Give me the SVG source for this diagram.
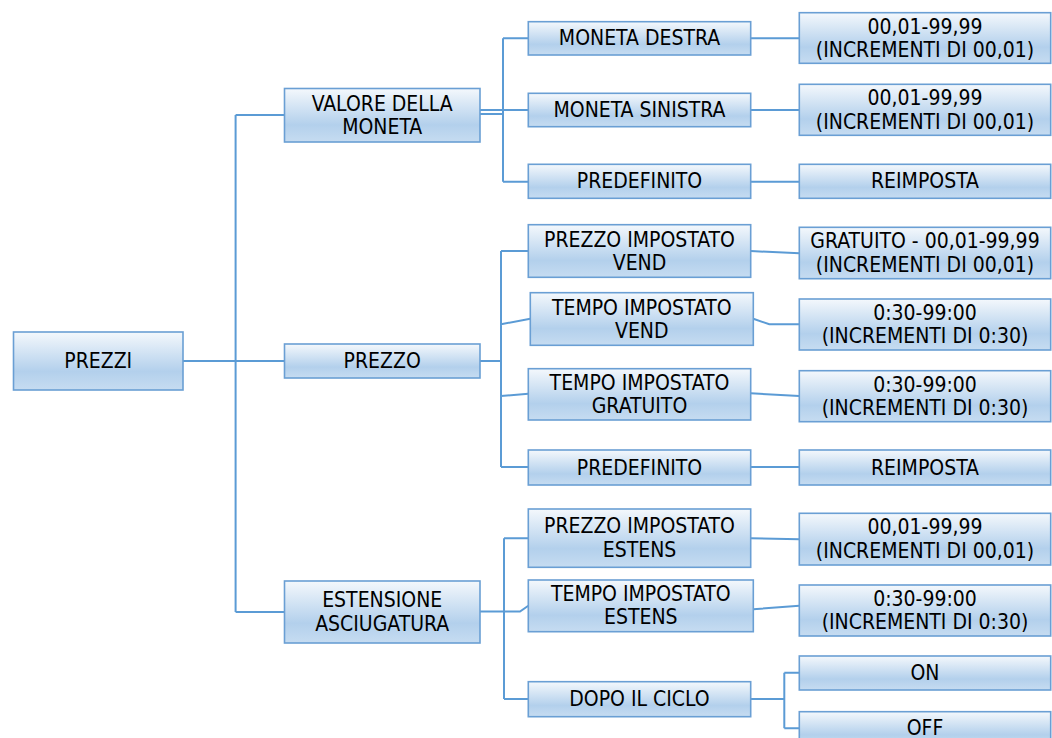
<svg xmlns="http://www.w3.org/2000/svg" width="1052" height="738" viewBox="0 0 1052 738">
<defs>
<linearGradient id="g" x1="0" y1="0" x2="0" y2="1">
<stop offset="0" stop-color="#f4f8fc"/>
<stop offset="0.68" stop-color="#b3d0ec"/>
<stop offset="1" stop-color="#c6dcf1"/>
</linearGradient>
</defs>
<style>
.b{fill:url(#g);stroke:#6a9fd4;stroke-width:1.6}
.t{font-family:"DejaVu Sans",Verdana,sans-serif;font-stretch:condensed;font-size:21px;fill:#000;text-anchor:middle;dominant-baseline:central}
.c{fill:none;stroke:#5b9bd5;stroke-width:2}
</style>
<rect width="1052" height="738" fill="#fff"/>
<g id="connectors">
<path class="c" d="M183 361H235.6M235.6 115V612M235.6 115H284.5M235.6 361H284.5M235.6 612H284.5"/>
<path class="c" d="M480 114H503M480 110H528.3M503 38.3V181.7M503 38.3H528.3M503 181.7H528.3"/>
<path class="c" d="M750.7 38.3H799.3M750.7 110H799.3M750.7 181.7H799.3"/>
<path class="c" d="M480 361H501M501 251V467M501 251H528.3M501 324.3L530.3 318.7M501 396L528.3 393.7M501 467H528.3"/>
<path class="c" d="M750.7 251L799.3 253.3M753.3 318.7L769.3 324.3H799.3M750.7 393.3L799.3 396M750.7 467H799.3"/>
<path class="c" d="M480 611.5H520L528.3 605.7M504 538.3V699M504 538.3H528.3M504 699H528.3"/>
<path class="c" d="M750.7 538.3L799.3 539.3M753.3 609.3L799.3 605.7M750.7 699H784.3M784.3 672.7V728.3M784.3 672.7H799.3M784.3 728.3H799.3"/>
</g>
<g id="n-prezzi"><rect class="b" x="13.5" y="332" width="169.5" height="58"/><text class="t" x="98.2" y="361">PREZZI</text></g>
<g id="n-valore"><rect class="b" x="284.5" y="88.5" width="195.5" height="53.5"/><text class="t" x="382.2" y="103.5">VALORE DELLA</text><text class="t" x="382.2" y="127">MONETA</text></g>
<g id="n-prezzo"><rect class="b" x="284.5" y="344" width="195.5" height="34"/><text class="t" x="382.2" y="361">PREZZO</text></g>
<g id="n-estensione"><rect class="b" x="284.5" y="581" width="195.5" height="62"/><text class="t" x="382.2" y="600.2">ESTENSIONE</text><text class="t" x="382.2" y="623.8">ASCIUGATURA</text></g>

<g id="n-moneta-destra"><rect class="b" x="528.3" y="21.7" width="222.4" height="33.3"/><text class="t" x="639.5" y="38.3">MONETA DESTRA</text></g>
<g id="n-moneta-sinistra"><rect class="b" x="528.3" y="93.3" width="222.4" height="33.4"/><text class="t" x="639.5" y="110">MONETA SINISTRA</text></g>
<g id="n-predefinito-1"><rect class="b" x="528.3" y="164.3" width="222.4" height="34"/><text class="t" x="639.5" y="181.3">PREDEFINITO</text></g>
<g id="n-prezzo-vend"><rect class="b" x="528.3" y="224.7" width="222.4" height="52.6"/><text class="t" x="639.5" y="239.5">PREZZO IMPOSTATO</text><text class="t" x="639.5" y="263">VEND</text></g>
<g id="n-tempo-vend"><rect class="b" x="530.3" y="292.7" width="223" height="52.6"/><text class="t" x="641.8" y="307.5">TEMPO IMPOSTATO</text><text class="t" x="641.8" y="331">VEND</text></g>
<g id="n-tempo-gratuito"><rect class="b" x="528.3" y="368.7" width="222.4" height="51.3"/><text class="t" x="639.5" y="382.5">TEMPO IMPOSTATO</text><text class="t" x="639.5" y="406">GRATUITO</text></g>
<g id="n-predefinito-2"><rect class="b" x="528.3" y="450" width="222.4" height="35"/><text class="t" x="639.5" y="467.5">PREDEFINITO</text></g>
<g id="n-prezzo-estens"><rect class="b" x="528.3" y="509" width="222.4" height="58.3"/><text class="t" x="639.5" y="525.5">PREZZO IMPOSTATO</text><text class="t" x="639.5" y="549.5">ESTENS</text></g>
<g id="n-tempo-estens"><rect class="b" x="528.3" y="580" width="225" height="51.7"/><text class="t" x="640.8" y="593.5">TEMPO IMPOSTATO</text><text class="t" x="640.8" y="617">ESTENS</text></g>
<g id="n-dopo"><rect class="b" x="528.3" y="681.7" width="222.4" height="35"/><text class="t" x="639.5" y="699.2">DOPO IL CICLO</text></g>

<g id="n-v1"><rect class="b" x="799.3" y="12.7" width="251.4" height="50.6"/><text class="t" x="925" y="26.5">00,01-99,99</text><text class="t" x="925" y="50">(INCREMENTI DI 00,01)</text></g>
<g id="n-v2"><rect class="b" x="799.3" y="84.3" width="251.4" height="51"/><text class="t" x="925" y="98">00,01-99,99</text><text class="t" x="925" y="121.5">(INCREMENTI DI 00,01)</text></g>
<g id="n-reimposta-1"><rect class="b" x="799.3" y="164.3" width="251.4" height="34"/><text class="t" x="925" y="181.3">REIMPOSTA</text></g>
<g id="n-v3"><rect class="b" x="799.3" y="227.3" width="251.4" height="51.4"/><text class="t" x="925" y="241">GRATUITO - 00,01-99,99</text><text class="t" x="925" y="264.5">(INCREMENTI DI 00,01)</text></g>
<g id="n-v4"><rect class="b" x="799.3" y="299" width="251.4" height="51"/><text class="t" x="925" y="312.8">0:30-99:00</text><text class="t" x="925" y="336.3">(INCREMENTI DI 0:30)</text></g>
<g id="n-v5"><rect class="b" x="799.3" y="370.7" width="251.4" height="51"/><text class="t" x="925" y="384.5">0:30-99:00</text><text class="t" x="925" y="408">(INCREMENTI DI 0:30)</text></g>
<g id="n-reimposta-2"><rect class="b" x="799.3" y="450" width="251.4" height="35"/><text class="t" x="925" y="467.5">REIMPOSTA</text></g>
<g id="n-v6"><rect class="b" x="799.3" y="513.3" width="251.4" height="51.7"/><text class="t" x="925" y="527.3">00,01-99,99</text><text class="t" x="925" y="550.8">(INCREMENTI DI 00,01)</text></g>
<g id="n-v7"><rect class="b" x="799.3" y="585" width="251.4" height="51"/><text class="t" x="925" y="598.8">0:30-99:00</text><text class="t" x="925" y="622.3">(INCREMENTI DI 0:30)</text></g>
<g id="n-on"><rect class="b" x="799.3" y="656" width="251.4" height="34"/><text class="t" x="925" y="673">ON</text></g>
<g id="n-off"><rect class="b" x="799.3" y="711.7" width="251.4" height="34"/><text class="t" x="925" y="727.5">OFF</text></g>
</svg>
